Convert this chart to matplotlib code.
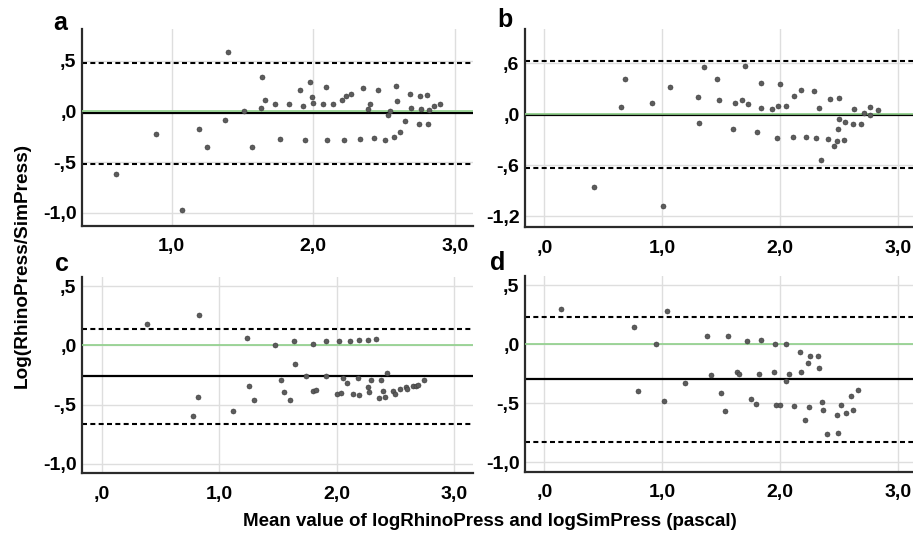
import matplotlib
matplotlib.use("Agg")
import matplotlib.pyplot as plt
from matplotlib.ticker import FuncFormatter

# Bland-Altman panels a-d: x = mean of logs, y = log ratio
a_x = [0.607, 0.892, 1.075, 1.193, 1.247, 1.374, 1.398, 1.508, 1.569, 1.628,
       1.640, 1.659, 1.732, 1.765, 1.831, 1.906, 1.927, 1.944, 1.979, 1.988,
       1.995, 2.071, 2.092, 2.094, 2.139, 2.200, 2.214, 2.231, 2.266, 2.329,
       2.353, 2.386, 2.400, 2.428, 2.454, 2.506, 2.527, 2.541, 2.569, 2.584,
       2.588, 2.612, 2.649, 2.685, 2.692, 2.746, 2.753, 2.760, 2.800, 2.812,
       2.819, 2.852, 2.894]
a_y = [-0.618, -0.227, -0.970, -0.178, -0.349, -0.082, 0.582, 0.003, -0.352, 0.033,
       0.339, 0.115, 0.069, -0.276, 0.069, 0.214, 0.056, -0.280, 0.286, 0.138,
       0.082, 0.072, 0.243, -0.280, 0.072, 0.115, -0.283, 0.155, 0.174, -0.276,
       0.234, 0.026, 0.072, -0.266, 0.214, -0.283, -0.036, 0.007, -0.257, 0.247,
       0.105, -0.201, -0.092, 0.171, 0.033, -0.128, 0.155, 0.023, 0.158, -0.128,
       0.016, 0.056, 0.069]

b_x = [0.423, 0.649, 0.688, 0.914, 1.007, 1.063, 1.306, 1.312, 1.354, 1.461,
       1.481, 1.597, 1.619, 1.673, 1.698, 1.729, 1.800, 1.839, 1.839, 1.932,
       1.972, 1.986, 2.000, 2.048, 2.113, 2.116, 2.180, 2.220, 2.288, 2.302,
       2.327, 2.350, 2.403, 2.426, 2.460, 2.482, 2.491, 2.496, 2.499, 2.542,
       2.550, 2.615, 2.626, 2.688, 2.708, 2.764, 2.764, 2.826]
b_y = [-0.854, 0.091, 0.421, 0.138, -1.075, 0.319, 0.209, -0.098, 0.551, 0.417,
       0.165, -0.169, 0.130, 0.169, 0.563, 0.118, -0.213, 0.370, 0.079, 0.063,
       -0.276, 0.094, 0.354, 0.098, -0.268, 0.217, 0.280, -0.264, 0.276, -0.283,
       0.079, -0.535, -0.291, 0.181, -0.374, -0.311, -0.177, 0.189, -0.051, -0.303,
       -0.087, -0.114, 0.063, -0.118, 0.012, 0.091, -0.012, 0.055]

c_x = [0.386, 0.828, 0.823, 0.774, 1.121, 1.234, 1.254, 1.299, 1.478, 1.529,
       1.549, 1.606, 1.637, 1.648, 1.736, 1.796, 1.801, 1.824, 1.912, 1.912,
       2.000, 2.020, 2.034, 2.057, 2.091, 2.113, 2.142, 2.179, 2.187, 2.193,
       2.267, 2.267, 2.272, 2.292, 2.335, 2.363, 2.380, 2.391, 2.411, 2.426,
       2.477, 2.499, 2.542, 2.590, 2.596, 2.647, 2.672, 2.695, 2.743]
c_y = [0.180, 0.258, -0.433, -0.601, -0.551, 0.062, -0.343, -0.461, 0.008, -0.295,
       -0.393, -0.463, 0.037, -0.157, -0.258, 0.014, -0.388, -0.379, 0.034, -0.258,
       -0.413, 0.034, -0.402, -0.278, -0.317, 0.039, -0.413, -0.272, -0.416, 0.045,
       0.045, -0.351, -0.390, -0.295, 0.056, -0.441, -0.292, -0.382, -0.435, -0.230,
       -0.382, -0.413, -0.368, -0.351, -0.371, -0.343, -0.346, -0.337, -0.295]

d_x = [0.142, 0.763, 0.794, 0.945, 1.013, 1.038, 1.194, 1.376, 1.410, 1.501,
       1.535, 1.560, 1.631, 1.648, 1.722, 1.750, 1.799, 1.818, 1.835, 1.949,
       1.960, 1.966, 1.997, 2.051, 2.051, 2.079, 2.116, 2.165, 2.179, 2.210,
       2.233, 2.244, 2.255, 2.323, 2.329, 2.355, 2.360, 2.394, 2.479, 2.491,
       2.516, 2.556, 2.599, 2.616, 2.661]
d_y = [0.299, 0.144, -0.400, 0.000, -0.479, 0.282, -0.327, 0.073, -0.259, -0.417,
       -0.563, 0.065, -0.234, -0.251, 0.023, -0.468, -0.510, -0.251, 0.039, -0.234,
       0.003, -0.518, -0.515, 0.003, -0.313, -0.254, -0.527, -0.065, -0.239, -0.639,
       -0.163, -0.535, -0.096, -0.096, -0.200, -0.493, -0.561, -0.761, -0.600, -0.752,
       -0.513, -0.580, -0.442, -0.555, -0.386]

# mean difference and limits of agreement per panel
mean_diff = [-0.020, -0.003, -0.258, -0.296]
loa_upper = [0.477, 0.622, 0.143, 0.234]
loa_lower = [-0.516, -0.630, -0.663, -0.825]

panel_letters = ["a", "b", "c", "d"]
yticks_a = [-1.0, -0.5, 0.0, 0.5]
yticks_b = [-1.2, -0.6, 0.0, 0.6]
xticks = [0.0, 1.0, 2.0, 3.0]

W, H = 913, 538
TICK_FONT = dict(family="Liberation Sans", weight="bold", size=14)


def spss_fmt(v, _pos=None):
    """SPSS-style label: comma decimal, no leading zero (',5', '-1,0')."""
    s = f"{v:.1f}".replace(".", ",")
    if s.startswith("0,"):
        s = s[1:]
    elif s.startswith("-0,"):
        s = "-" + s[2:]
    return s


def rect(left, right, top, bottom):
    return [left / W, (H - bottom) / H, (right - left) / W, (bottom - top) / H]


fig = plt.figure(figsize=(W / 100, H / 100), dpi=100)

panels = [
    (a_x, a_y, rect(82, 473, 29, 226), (0.367, 3.128), (-1.128, 0.81), yticks_a),
    (b_x, b_y, rect(525, 913, 29, 227), (-0.164, 3.127), (-1.327, 1.004), yticks_b),
    (c_x, c_y, rect(82, 473, 277, 473), (-0.168, 3.16), (-1.079, 0.579), yticks_a),
    (d_x, d_y, rect(525, 913, 276, 472), (-0.164, 3.127), (-1.082, 0.577), yticks_a),
]
letter_pos = [(53, 30), (497, 27), (55, 271), (490, 270)]

for i, (xs, ys, r, xl, yl, yt) in enumerate(panels):
    ax = fig.add_axes(r)
    ax.set_xlim(*xl)
    ax.set_ylim(*yl)
    ax.set_xticks([t for t in xticks if xl[0] <= t <= xl[1]])
    ax.set_yticks(yt)
    ax.xaxis.set_major_formatter(FuncFormatter(spss_fmt))
    ax.yaxis.set_major_formatter(FuncFormatter(spss_fmt))
    ax.grid(True, color="#dedede", lw=1.0, zorder=0)
    ax.set_axisbelow(True)
    for side in ("top", "right"):
        ax.spines[side].set_visible(False)
    for side in ("left", "bottom"):
        ax.spines[side].set_color("#2b2b2b")
        ax.spines[side].set_linewidth(1.6)
    ax.tick_params(length=0, pad=4)
    ax.tick_params(axis="x", pad=9)
    for lab in ax.get_xticklabels() + ax.get_yticklabels():
        lab.set_fontproperties(TICK_FONT)

    ax.axhline(mean_diff[i], color="black", lw=1.6, zorder=2)
    ax.axhline(0.0, color="#8fd08a", lw=1.2, zorder=3)
    for lim in (loa_upper[i], loa_lower[i]):
        ax.axhline(lim, color="black", lw=1.5, ls=(0, (2.4, 1.6)), zorder=2)
    ax.scatter(xs, ys, s=13, color="#5c5c5c", edgecolors="#3a3a3a",
               linewidths=0.4, zorder=4)

    lx, ly = letter_pos[i]
    fig.text(lx / W, 1 - ly / H, panel_letters[i], fontsize=18,
             fontweight="bold", family="Liberation Sans", va="baseline")

fig.text(22 / W, 1 - 265 / H, "Log(RhinoPress/SimPress)", rotation=90,
         ha="center", va="center", fontsize=13.7, fontweight="bold",
         family="Liberation Sans")
fig.text(490 / W, 1 - 521 / H,
         "Mean value of logRhinoPress and logSimPress (pascal)",
         ha="center", va="center", fontsize=13.5, fontweight="bold",
         family="Liberation Sans")

fig.savefig("out.png", dpi=100)
